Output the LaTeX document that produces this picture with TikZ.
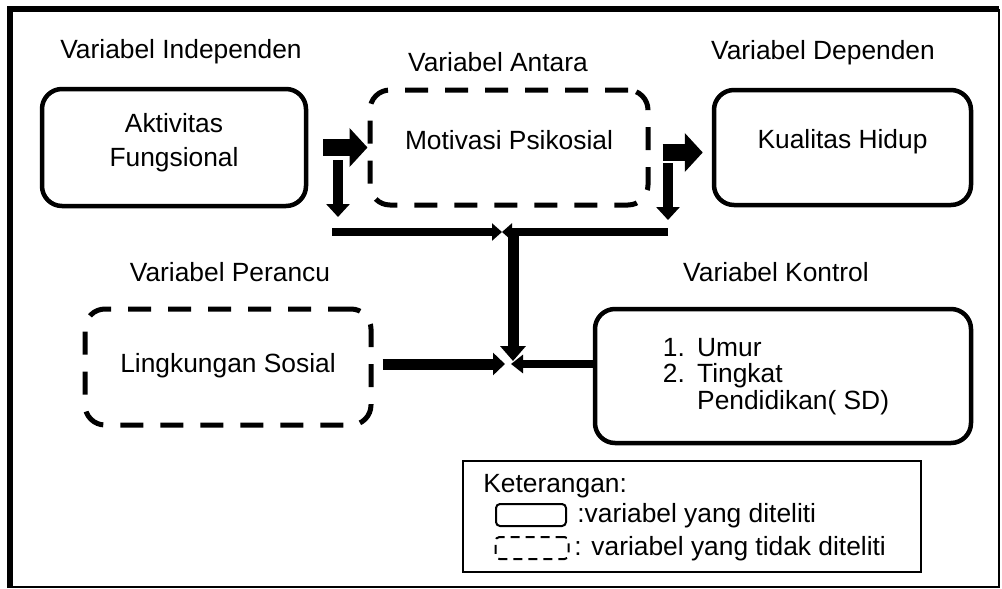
\documentclass[tikz,border=0pt]{standalone}
\usepackage{fontspec}
\setmainfont{Liberation Sans}
\usetikzlibrary{arrows.meta}
\newdimen\px \px=0.02cm

\tikzset{
  varbox/.style={draw, rounded corners=20\px, line width=4.5\px, align=center},
  ctrlbox/.style={varbox, dash pattern=on 23\px off 17\px, line width=5\px},
  bigarrow/.style={line width=0.34cm, -{Triangle[length=0.36cm,width=0.76cm]}},
  downarrow/.style={line width=0.2cm, -{Triangle[length=0.26cm,width=0.46cm]}},
  linkarrow/.style={line width=0.16cm, -{Triangle[length=0.2cm,width=0.34cm]}},
  sidearrow/.style={line width=0.22cm, -{Triangle[length=0.24cm,width=0.44cm]}}
}

\begin{document}
\begin{tikzpicture}[x=0.02cm, y=-0.02cm, every node/.style={font=\fontsize{15}{19}\selectfont}]
            \useasboundingbox (0,0) rectangle (1002,589);
            \draw[line width=6\px] (10,588) -- (10,9) -- (999,9);
            \draw[line width=1.5\px] (999,9) -- (999,587) -- (10,587);

            \node[varbox, minimum width=264\px, minimum height=117\px, text depth=0.3cm] (akt) at (174,147.5) {Aktivitas\\Fungsional};
            \node[ctrlbox, minimum width=278\px, minimum height=115\px, text depth=0.32cm] (mot) at (509,147.5) {Motivasi Psikosial};
            \node[varbox, minimum width=257\px, minimum height=115\px, text depth=0.36cm] (kua) at (842.5,147.5) {Kualitas Hidup};
            \node[ctrlbox, minimum width=286\px, minimum height=116\px, text depth=0.16cm] (lin) at (228,367) {Lingkungan Sosial};
            \node[varbox, minimum width=376\px, minimum height=134\px] (kon) at (783,376)
                {\begin{tabular}{@{}l@{\hspace{7pt}}l@{}}1. & Umur\\[-4pt] 2. & Tingkat\\[-4pt] & Pendidikan( SD)\end{tabular}\hspace{0.28cm}};

            \node (lind) at (181,52) {Variabel Independen};
            \node (lant) at (498,62) {Variabel Antara};
            \node (ldep) at (823,53) {Variabel Dependen};
            \node (lper) at (230,272) {Variabel Perancu};
            \node (lkon) at (776,272) {Variabel Kontrol};

            \coordinate (d1s) at (338,160);
            \coordinate (d1e) at (338,217);
            \coordinate (d2s) at (668,163);
            \coordinate (d2e) at (668,220);
            \coordinate (ltop) at (332,232);
            \coordinate (rtop) at (668,232);
            \coordinate (jtop) at (502,232);
            \coordinate (jvt) at (513,228);
            \coordinate (jvb) at (513,361);
            \coordinate (jl) at (505,364);
            \coordinate (jr) at (511,364);

            \draw[bigarrow] ([xshift=0.3cm]akt.east) -- (mot.west);
            \draw[bigarrow] ([xshift=0.24cm,yshift=-0.1cm]mot.east) -- ([xshift=-0.18cm,yshift=-0.1cm]kua.west);
            \draw[downarrow] (d1s) -- (d1e);
            \draw[downarrow] (d2s) -- (d2e);
            \draw[linkarrow] (ltop) -- (jtop);
            \draw[linkarrow] (rtop) -- (jtop);
            \draw[sidearrow, -{Triangle[length=0.3cm,width=0.5cm]}] (jvt) -- (jvb);
            \draw[sidearrow] (lin.east |- jl) ++(9,0) -- (jl);
            \draw[linkarrow, -{Triangle[length=0.24cm,width=0.36cm]}] (kon.west |- jr) -- (jr);

            \node[draw, line width=2\px, minimum width=458\px, minimum height=111\px] (leg) at (692,516.5) {};
            \node[anchor=west, inner sep=0pt] (ket) at (483,486) {Keterangan:};
            \node[draw, rounded corners=4\px, line width=2\px, minimum width=70\px, minimum height=22\px] (solid) at (531,515) {};
            \node[draw, rounded corners=4\px, line width=2\px, dash pattern=on 9\px off 6\px, minimum width=73\px, minimum height=22\px] (dash) at (532,548) {};
            \node[anchor=west, inner sep=0pt] (tsolid) at (577,516) {:variabel yang diteliti};
            \node[anchor=west, inner sep=0pt] (tdash) at (574,549) {: variabel yang tidak diteliti};
        \end{tikzpicture}
\end{document}
